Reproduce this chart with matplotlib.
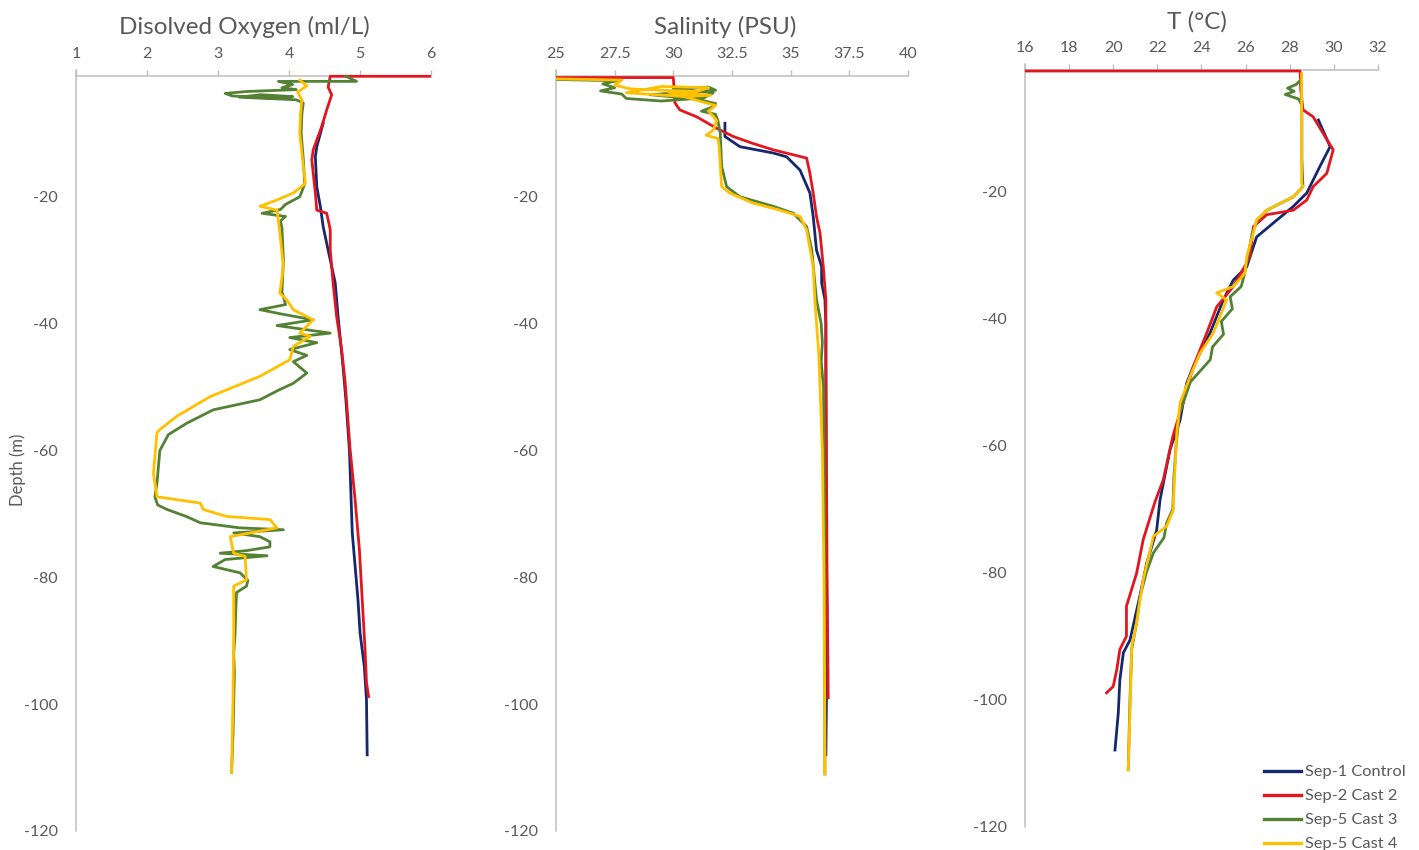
import matplotlib
matplotlib.use("Agg")
import matplotlib.pyplot as plt
from matplotlib.lines import Line2D

plt.rcParams['font.family'] = ['Lato', 'DejaVu Sans']
plt.rcParams['axes.unicode_minus'] = False

# series names and colours
names = ['Sep-1 Control', 'Sep-2 Cast 2', 'Sep-5 Cast 3', 'Sep-5 Cast 4']
colors = ['#14286E', '#E3161F', '#548235', '#FFC000']

# ---- Dissolved oxygen (ml/L) vs depth (m)
do_ctrl_depth = [-8.4, -12.1, -13.7, -18.4, -21.5, -24.7, -28.4, -33.6, -38.9, -46.8, -52.0, -60.0,
                 -73.0, -83.5, -88.8, -94.1, -99.3, -108.0]
do_ctrl = [4.48, 4.39, 4.37, 4.39, 4.44, 4.48, 4.55, 4.65, 4.69, 4.76, 4.80, 4.85,
           4.89, 4.97, 5.00, 5.06, 5.09, 5.10]

do_c2_depth = [-1.0, -1.0, -2.7, -3.9, -6.3, -8.9, -12.6, -14.2, -19.4, -22.1, -22.6, -25.2,
               -28.4, -33.6, -38.9, -44.1, -49.3, -59.9, -67.8, -75.6, -83.5, -91.4, -96.6, -98.8]
do_c2 = [6.0, 4.58, 4.55, 4.60, 4.53, 4.46, 4.34, 4.32, 4.37, 4.39, 4.53, 4.58,
         4.58, 4.62, 4.67, 4.74, 4.79, 4.86, 4.93, 4.99, 5.03, 5.07, 5.09, 5.12]

do_c3_depth = [-1.0, -1.8, -1.8, -2.3, -2.8, -3.1, -3.4, -3.7, -4.1, -4.4, -4.2, -3.9, -4.3, -4.7, -5.2,
               -7.0, -10.0, -14.0, -18.0, -20.0, -21.2, -22.0, -22.6, -23.1, -23.8, -25.0, -30.0, -35.0,
               -37.0, -37.8, -38.5, -39.4, -40.3, -41.5, -42.2, -43.0, -44.1, -45.0, -46.0, -47.8, -49.4,
               -50.5, -52.0, -53.6, -55.7, -57.5, -60.0, -65.1, -67.3, -68.6, -69.3, -70.4, -71.4, -72.2,
               -72.5, -73.0, -73.6, -74.4, -75.2, -75.8, -76.2, -76.6, -77.2, -78.3, -79.3, -80.5, -81.4,
               -82.4, -85.0, -88.8, -92.0, -95.0, -100.0, -105.0, -110.8]
do_c3 = [4.80, 4.95, 3.85, 4.05, 3.90, 4.10, 3.40, 3.10, 3.20, 3.70, 4.05, 3.60, 3.30, 4.10, 4.20,
         4.18, 4.17, 4.20, 4.22, 4.15, 3.95, 3.88, 3.62, 3.95, 3.88, 3.90, 3.92, 3.90,
         3.95, 3.59, 3.90, 4.34, 3.83, 4.58, 4.01, 4.39, 4.01, 4.25, 4.06, 4.25, 4.06,
         3.85, 3.59, 2.93, 2.56, 2.30, 2.18, 2.14, 2.11, 2.15, 2.28, 2.55, 2.75, 3.30,
         3.92, 3.22, 3.59, 3.73, 3.73, 3.40, 3.03, 3.69, 3.10, 2.93, 3.31, 3.42, 3.40,
         3.26, 3.25, 3.24, 3.22, 3.23, 3.22, 3.21, 3.19]

do_c4_depth = [-1.6, -2.5, -3.5, -4.7, -7.0, -10.0, -15.2, -17.9, -19.4, -20.5, -21.5, -22.1, -25.7,
               -31.0, -35.2, -36.3, -37.8, -39.4, -41.5, -42.0, -43.6, -45.7, -48.3, -51.5, -54.6, -56.7,
               -57.2, -63.6, -67.3, -68.3, -69.3, -70.4, -70.9, -72.2, -73.6, -76.2, -76.7, -80.4, -81.4,
               -88.8, -99.3, -110.8]
do_c4 = [4.15, 4.25, 4.12, 4.18, 4.16, 4.15, 4.20, 4.23, 4.06, 3.83, 3.59, 3.83, 3.87,
         3.92, 3.87, 3.97, 4.06, 4.34, 4.15, 4.30, 4.06, 4.01, 3.59, 2.89, 2.42, 2.18,
         2.14, 2.09, 2.14, 2.75, 2.79, 3.12, 3.73, 3.83, 3.17, 3.22, 3.38, 3.40, 3.22,
         3.22, 3.21, 3.19]

# ---- Salinity (PSU) vs depth (m)
sal_ctrl_depth = [-8.4, -10.5, -12.1, -13.1, -13.7, -15.8, -19.4, -23.1, -28.4, -31.0, -33.6, -36.2,
                  -40.0, -50.0, -70.0, -90.0, -108.0]
sal_ctrl = [32.2, 32.2, 32.84, 34.26, 34.83, 35.4, 35.82, 35.96, 36.1, 36.32, 36.32, 36.46,
            36.5, 36.5, 36.52, 36.55, 36.5]

sal_c2_depth = [-1.2, -1.2, -5.2, -6.3, -7.4, -9.2, -10.5, -11.6, -12.6, -13.9, -16.3, -19.4, -23.1,
                -25.7, -31.0, -36.2, -45.0, -60.0, -80.0, -99.0]
sal_c2 = [25.0, 30.0, 30.07, 30.28, 31.0, 31.85, 32.56, 33.4, 34.26, 35.68, 35.82, 35.96, 36.1,
          36.25, 36.39, 36.5, 36.5, 36.52, 36.55, 36.6]

sal_c3_depth = [-1.5, -1.7, -2.2, -2.8, -3.3, -3.8, -4.5, -4.9, -4.4, -3.6, -3.0, -2.7, -3.2, -3.9,
                -4.6, -5.3, -5.8, -6.5, -7.0, -8.0, -10.0, -15.2, -18.4, -20.0, -21.5, -22.6, -24.7,
                -28.4, -33.6, -36.2, -40.0, -43.0, -46.0, -50.0, -70.0, -90.0, -111.0]
sal_c3 = [25.0, 27.6, 27.0, 27.5, 26.9, 27.8, 28.0, 29.5, 31.3, 31.7, 30.0, 31.5, 31.8, 29.0,
          31.0, 31.8, 31.7, 31.2, 31.8, 31.9, 32.0, 32.06, 32.27, 32.84, 34.26, 35.11, 35.68,
          35.9, 36.03, 36.1, 36.3, 36.35, 36.3, 36.4, 36.45, 36.45, 36.46]

sal_c4_depth = [-1.4, -1.6, -2.4, -3.0, -3.4, -2.8, -2.6, -3.6, -4.2, -4.0, -3.5, -5.0, -5.6, -6.5,
                -8.0, -9.5, -10.3, -10.8, -12.0, -15.0, -18.4, -19.4, -21.0, -22.1, -23.1, -25.2,
                -31.0, -36.2, -45.0, -60.0, -80.0, -100.0, -111.0]
sal_c4 = [25.0, 27.8, 27.5, 28.2, 31.0, 31.5, 29.5, 28.0, 30.5, 31.6, 29.8, 31.2, 31.8, 31.5,
          31.85, 31.7, 31.4, 31.9, 31.95, 32.0, 32.06, 32.4, 33.4, 34.54, 35.4, 35.68,
          35.96, 36.03, 36.2, 36.35, 36.42, 36.45, 36.46]

# ---- Temperature (deg C) vs depth (m)
t_ctrl_depth = [-8.8, -13.0, -16.1, -20.3, -22.4, -25.0, -27.2, -31.9, -34.0, -37.1, -42.3, -47.6,
                -50.2, -56.0, -60.7, -68.6, -73.3, -78.5, -83.8, -90.6, -92.6, -96.9, -102.1, -107.9]
t_ctrl = [29.3, 29.83, 29.37, 28.77, 28.16, 27.26, 26.5, 26.05, 25.44, 24.99, 24.39, 23.63,
          23.33, 23.03, 22.57, 22.12, 21.97, 21.52, 21.2, 20.76, 20.46, 20.3, 20.23, 20.08]

t_c2_depth = [-1.1, -1.1, -4.0, -7.2, -8.3, -13.5, -17.2, -19.3, -21.4, -23.0, -23.7, -25.6, -30.3,
              -31.3, -35.0, -38.2, -42.3, -47.6, -52.8, -58.6, -65.4, -68.8, -74.8, -80.1, -85.3,
              -90.0, -92.1, -95.3, -97.9, -98.9]
t_c2 = [16.0, 28.47, 28.5, 28.6, 29.06, 29.97, 29.68, 29.06, 28.77, 28.16, 26.96, 26.35, 26.2,
        26.05, 25.44, 24.69, 24.24, 23.63, 23.2, 22.7, 22.27, 21.9, 21.36, 21.06, 20.6,
        20.6, 20.3, 20.16, 20.0, 19.7]

t_c3_depth = [-2.5, -3.2, -3.8, -4.3, -4.8, -5.5, -6.5, -10.0, -15.0, -19.3, -20.9, -23.0, -24.5,
              -26.6, -30.3, -33.0, -35.0, -36.6, -38.5, -40.5, -42.5, -44.5, -46.5, -50.0, -55.0,
              -60.0, -65.0, -70.0, -72.2, -74.5, -76.9, -80.0, -84.0, -87.9, -92.0, -100.0, -111.0]
t_c3 = [28.5, 28.3, 27.9, 28.2, 27.8, 28.4, 28.55, 28.55, 28.55, 28.6, 28.16, 26.96, 26.55,
        26.3, 26.1, 25.95, 25.8, 25.3, 25.4, 24.9, 25.0, 24.5, 24.4, 23.5, 23.0,
        22.85, 22.75, 22.7, 22.42, 22.3, 21.82, 21.5, 21.2, 21.06, 20.84, 20.76, 20.68]

t_c4_depth = [-1.5, -5.6, -10.0, -15.0, -18.8, -19.3, -20.9, -23.0, -24.5, -26.6, -30.3, -32.9,
              -35.0, -36.0, -37.1, -42.3, -45.5, -49.2, -53.3, -58.0, -68.6, -70.1, -72.7, -74.3,
              -81.1, -87.9, -91.6, -102.0, -111.0]
t_c4 = [28.54, 28.54, 28.54, 28.54, 28.54, 28.6, 28.16, 26.96, 26.5, 26.35, 26.05, 25.97,
        25.44, 24.69, 25.14, 24.54, 23.93, 23.48, 23.03, 22.88, 22.73, 22.73, 22.42, 21.82,
        21.36, 21.06, 20.84, 20.76, 20.68]

# axis ticks
do_ticks = [1, 2, 3, 4, 5, 6]
sal_ticks = [25, 27.5, 30, 32.5, 35, 37.5, 40]
sal_labels = ['25', '27.5', '30', '32.5', '35', '37.5', '40']
t_ticks = [16, 18, 20, 22, 24, 26, 28, 30, 32]
depth_ticks = [-120, -100, -80, -60, -40, -20]

txt_col = '#595959'
ax_col = '#BFBFBF'

fig = plt.figure(figsize=(14.19, 8.5), dpi=100)
ax1 = fig.add_axes([0.0536, 0.0224, 0.2502, 0.8953])
ax2 = fig.add_axes([0.3918, 0.0224, 0.2481, 0.8953])
ax3 = fig.add_axes([0.7223, 0.0271, 0.2488, 0.8976])

panels = [
    (ax1, 'Disolved Oxygen (ml/L)', 0.475,
     [(do_ctrl, do_ctrl_depth), (do_c2, do_c2_depth), (do_c3, do_c3_depth), (do_c4, do_c4_depth)],
     do_ticks, [str(t) for t in do_ticks]),
    (ax2, 'Salinity (PSU)', 0.48,
     [(sal_ctrl, sal_ctrl_depth), (sal_c2, sal_c2_depth), (sal_c3, sal_c3_depth), (sal_c4, sal_c4_depth)],
     sal_ticks, sal_labels),
    (ax3, 'T (°C)', 0.487,
     [(t_ctrl, t_ctrl_depth), (t_c2, t_c2_depth), (t_c3, t_c3_depth), (t_c4, t_c4_depth)],
     t_ticks, [str(t) for t in t_ticks]),
]

for ax, title, tx, series, ticks, labels in panels:
    for (vals, dep), col in zip(series, colors):
        ax.plot(vals, dep, color=col, lw=2.0, solid_joinstyle='round', zorder=3)
    ax.set_xlim(ticks[0], ticks[-1])
    ax.set_ylim(-120, 0)
    ax.xaxis.set_ticks_position('top')
    ax.set_xticks(ticks)
    ax.set_xticklabels(labels)
    ax.set_yticks(depth_ticks)
    ax.tick_params(axis='x', direction='out', length=4, width=1, color=ax_col,
                   labelcolor=txt_col, labelsize=11.5, pad=7)
    ax.tick_params(axis='y', length=0, labelcolor=txt_col, labelsize=11.5, pad=13)
    for s in ['right', 'bottom']:
        ax.spines[s].set_visible(False)
    ax.spines['top'].set_position(('data', -1))
    ax.spines['top'].set_color(ax_col)
    ax.spines['left'].set_color(ax_col)
    ax.spines['top'].set_linewidth(1.1)
    ax.spines['left'].set_linewidth(1.1)
    ax.patch.set_alpha(0)
    ax.text(tx, 1.047, title, transform=ax.transAxes, ha='center', va='baseline',
            fontsize=17.5, color=txt_col)

fig.text(18 / 1419, 1 - 470 / 850, 'Depth (m)', rotation=90, ha='center', va='center',
         fontsize=12, color=txt_col)

handles = [Line2D([], [], color=c, lw=2.4) for c in colors]
leg = fig.legend(handles, names, loc='upper left', bbox_to_anchor=(0.8905, 0.100),
                 frameon=False, fontsize=11.8, handlelength=2.3, handletextpad=0.2,
                 labelspacing=0.58, borderpad=0, borderaxespad=0)
for t in leg.get_texts():
    t.set_color(txt_col)

fig.savefig('out.png', dpi=100)
